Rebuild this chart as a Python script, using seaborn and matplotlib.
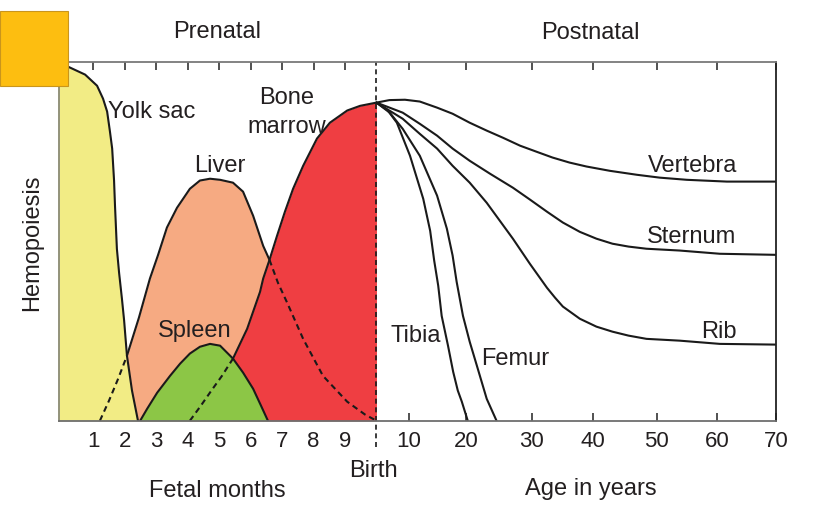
import numpy as np
import pandas as pd
import matplotlib
matplotlib.use("Agg")
import matplotlib.pyplot as plt
from matplotlib.patches import Rectangle
import seaborn as sns

# ---- data (x: fetal months / age in years, y: relative hemopoiesis 0-100) ----
YOLK_MONTH = [-0.09, 0.20, 0.74, 1.12, 1.31, 1.44, 1.53, 1.60, 1.66, 1.69, 1.75, 1.82, 1.91, 1.98, 2.07, 2.23, 2.42]
YOLK_LEVEL = [99.4, 98.6, 96.4, 93.3, 89.7, 86.1, 80.5, 75.8, 66.9, 59.9, 47.9, 41.2, 34.0, 27.9, 18.1, 8.4, 0.0]

LIVER_MONTH = [1.21, 1.50, 1.79, 2.07, 2.45, 2.80, 3.06, 3.34, 3.66, 4.07, 4.39, 4.71, 5.03,
               5.44, 5.76, 6.08, 6.40, 6.60, 6.87, 7.16, 7.67, 8.30, 9.07, 9.64, 10.0]
LIVER_LEVEL = [0.0, 5.6, 11.7, 18.1, 28.7, 39.6, 46.2, 53.8, 59.3, 64.6, 66.9, 67.4, 67.1,
               66.3, 63.8, 57.1, 48.7, 44.8, 38.4, 32.9, 22.8, 12.5, 5.3, 1.7, 0.0]
LIVER_VISIBLE = (2.07, 6.60)

SPLEEN_MONTH = [2.49, 2.71, 3.03, 3.44, 3.76, 4.07, 4.39, 4.71, 5.03, 5.44, 5.76, 6.08, 6.33, 6.55]
SPLEEN_LEVEL = [0.0, 3.3, 7.8, 12.5, 15.9, 18.7, 20.6, 21.4, 20.9, 17.3, 13.4, 8.9, 4.2, 0.0]

MARROW_MONTH = [4.07, 4.42, 4.77, 5.09, 5.44, 5.89, 6.30, 6.40, 6.60, 6.84, 7.09, 7.35, 7.67,
                8.11, 8.52, 9.07, 9.48, 10.0]
MARROW_LEVEL = [0.0, 4.2, 8.6, 12.5, 17.3, 25.6, 35.9, 39.6, 44.8, 51.5, 58.2, 64.6, 71.0,
                78.6, 83.0, 86.4, 87.7, 88.6]
MARROW_VISIBLE = (5.44, 10.0)

VERTEBRA_AGE = [0, 4.0, 8.8, 11.9, 14.9, 17.6, 20.5, 23.1, 25.6, 28.2, 30.8, 33.4, 36.2, 39.0,
                42.7, 46.9, 50.5, 55.0, 61.7, 70]
VERTEBRA_LEVEL = [88.6, 89.3, 89.4, 88.9, 87.2, 85.5, 83.0, 80.8, 78.8, 76.6, 74.9, 73.3, 71.9, 70.8,
                  69.6, 68.5, 67.7, 67.1, 66.6, 66.6]

STERNUM_AGE = [0, 8.1, 11.9, 14.9, 17.6, 20.5, 23.6, 27.1, 29.7, 32.5, 35.1, 37.9, 40.6, 43.1,
               45.6, 48.4, 53.8, 60.5, 70]
STERNUM_LEVEL = [88.6, 85.8, 82.7, 79.4, 75.8, 72.4, 68.8, 64.9, 61.6, 58.2, 55.2, 52.6, 50.7, 49.3,
                 48.5, 47.9, 47.4, 46.5, 46.2]

RIB_AGE = [0, 8.1, 11.9, 14.9, 17.6, 20.5, 23.1, 25.1, 27.1, 29.7, 32.5, 33.8, 35.1, 37.9, 40.6,
           43.1, 45.6, 48.4, 53.8, 60.5, 70]
RIB_LEVEL = [88.6, 84.1, 79.9, 75.8, 71.0, 66.3, 60.7, 55.7, 50.7, 43.7, 37.0, 34.3, 31.8, 28.4, 26.2,
             24.8, 23.7, 22.8, 22.3, 21.4, 21.2]

FEMUR_AGE = [0, 4.1, 8.1, 11.9, 14.9, 16.6, 17.6, 18.3, 19.4, 20.5, 21.6, 23.1, 24.6]
FEMUR_LEVEL = [88.6, 85.8, 81.3, 73.8, 62.7, 53.5, 46.0, 38.7, 29.2, 22.0, 15.3, 6.1, 0.0]

TIBIA_AGE = [0, 3.5, 6.3, 10.2, 12.5, 13.7, 14.4, 15.1, 15.7, 16.8, 17.7, 18.5, 19.2, 20.2]
TIBIA_LEVEL = [88.6, 86.4, 83.0, 73.8, 61.8, 52.9, 44.6, 37.6, 29.2, 20.9, 13.6, 8.4, 5.3, 0.0]

MONTH_TICKS = [1, 2, 3, 4, 5, 6, 7, 8, 9]
YEAR_TICKS = [0, 10, 20, 30, 40, 50, 60, 70]
# the postnatal part of the axis is not linear: where each year tick sits
YEAR_POS = [10.0, 11.03, 12.86, 14.94, 16.87, 18.91, 20.82, 22.70]

TEXT = "#231f20"
INK = "#1a1a1a"
YELLOW, SALMON, GREEN, RED = "#f2ec85", "#f6aa82", "#8cc646", "#ef3e42"


def age_to_pos(age):
    return np.interp(age, YEAR_TICKS, YEAR_POS)


sns.set_theme(style="white")
plt.rcParams["font.family"] = ["Liberation Sans", "DejaVu Sans"]

fig = plt.figure(figsize=(8.16, 5.1), dpi=100)
ax = fig.add_axes([0.0723, 0.1731, 0.8787, 0.704])

# filled regions (order matters: later ones cover earlier ones)
ax.fill_between(LIVER_MONTH, LIVER_LEVEL, 0, color=SALMON, lw=0, zorder=1)
ax.fill_between(YOLK_MONTH, YOLK_LEVEL, 0, color=YELLOW, lw=0, zorder=2)
ax.fill_between(MARROW_MONTH, MARROW_LEVEL, 0, color=RED, lw=0, zorder=3)
ax.fill_between(SPLEEN_MONTH, SPLEEN_LEVEL, 0, color=GREEN, lw=0, zorder=4)

line_kw = dict(color=INK, lw=1.5, zorder=6, solid_capstyle="round", solid_joinstyle="round")
dash_kw = dict(color=INK, lw=1.5, zorder=6, ls=(0, (2.8, 2.0)))


def split_plot(xs, ys, visible):
    # solid where the organ's curve is on top, dashed where it is hidden
    xs = np.asarray(xs)
    ys = np.asarray(ys)
    lo, hi = visible
    solid = (xs >= lo) & (xs <= hi)
    before = xs <= lo
    after = xs >= hi
    ax.plot(xs[solid], ys[solid], **line_kw)
    if before.sum() > 1:
        ax.plot(xs[before], ys[before], **dash_kw)
    if after.sum() > 1:
        ax.plot(xs[after], ys[after], **dash_kw)


ax.plot(YOLK_MONTH, YOLK_LEVEL, **line_kw)
split_plot(LIVER_MONTH, LIVER_LEVEL, LIVER_VISIBLE)
ax.plot(SPLEEN_MONTH, SPLEEN_LEVEL, **line_kw)
split_plot(MARROW_MONTH, MARROW_LEVEL, MARROW_VISIBLE)

# postnatal bones
bones = {
    "Vertebra": (VERTEBRA_AGE, VERTEBRA_LEVEL),
    "Sternum": (STERNUM_AGE, STERNUM_LEVEL),
    "Rib": (RIB_AGE, RIB_LEVEL),
    "Femur": (FEMUR_AGE, FEMUR_LEVEL),
    "Tibia": (TIBIA_AGE, TIBIA_LEVEL),
}
rows = []
for name, (ages, levels) in bones.items():
    for a, lv in zip(ages, levels):
        rows.append({"bone": name, "pos": age_to_pos(a), "level": lv})
df = pd.DataFrame(rows)
sns.lineplot(data=df, x="pos", y="level", hue="bone", units="bone", estimator=None,
             sort=False, palette={b: INK for b in bones}, lw=1.5,
             solid_joinstyle="round", legend=False, ax=ax, zorder=6)

# birth line
ax.plot([10, 10], [-7.2, 100], color=INK, lw=1.2, ls=(0, (3.0, 2.2)),
        clip_on=False, zorder=7)

ax.set_xlim(-0.09, 22.70)
ax.set_ylim(0, 100)
ax.set_xlabel("")
ax.set_ylabel("")
ax.set_yticks([])
ax.set_xticks(MONTH_TICKS + YEAR_POS[1:])
ax.set_xticklabels([str(m) for m in MONTH_TICKS] + [str(y) for y in YEAR_TICKS[1:]])
ax.tick_params(axis="x", direction="in", length=6, width=1.2, color="#333333",
               top=True, bottom=True, pad=7, labelsize=16, labelcolor=TEXT)

for side, col in [("left", "#8a8a72"), ("top", "#7a7a7a"), ("bottom", "#6e6e6e"), ("right", "#222222")]:
    ax.spines[side].set_visible(True)
    ax.spines[side].set_color(col)
    ax.spines[side].set_linewidth(1.3)
    ax.spines[side].set_zorder(8)

# region labels
fs = 17
ax.text(1.47, 84.6, "Yolk sac", fontsize=fs, color=TEXT, ha="left", va="baseline", zorder=9)
ax.text(7.16, 88.6, "Bone", fontsize=fs, color=TEXT, ha="center", va="baseline", zorder=9)
ax.text(7.16, 80.4, "marrow", fontsize=fs, color=TEXT, ha="center", va="baseline", zorder=9)
ax.text(5.03, 69.5, "Liver", fontsize=fs, color=TEXT, ha="center", va="baseline", zorder=9)
ax.text(4.23, 23.7, "Spleen", fontsize=fs, color=TEXT, ha="center", va="baseline", zorder=9)
ax.text(11.25, 22.2, "Tibia", fontsize=fs, color=TEXT, ha="center", va="baseline", zorder=9)
ax.text(14.42, 15.8, "Femur", fontsize=fs, color=TEXT, ha="center", va="baseline", zorder=9)
ax.text(20.88, 23.3, "Rib", fontsize=fs, color=TEXT, ha="center", va="baseline", zorder=9)
ax.text(20.05, 69.5, "Vertebra", fontsize=fs, color=TEXT, ha="center", va="baseline", zorder=9)
ax.text(20.02, 49.8, "Sternum", fontsize=fs, color=TEXT, ha="center", va="baseline", zorder=9)

# figure level labels
fig.text(0.266, 0.925, "Prenatal", fontsize=fs, color=TEXT, ha="center", va="baseline")
fig.text(0.724, 0.924, "Postnatal", fontsize=fs, color=TEXT, ha="center", va="baseline")
fig.text(0.458, 0.0647, "Birth", fontsize=fs, color=TEXT, ha="center", va="baseline")
fig.text(0.266, 0.0255, "Fetal months", fontsize=fs, color=TEXT, ha="center", va="baseline")
fig.text(0.724, 0.029, "Age in years", fontsize=fs, color=TEXT, ha="center", va="baseline")
fig.text(0.039, 0.524, "Hemopoiesis", fontsize=fs, color=TEXT, ha="center", va="center",
         rotation=90)

# gold corner square
fig.add_artist(Rectangle((0.0, 0.829), 0.0833, 0.147, transform=fig.transFigure,
                         facecolor="#fdbe10", edgecolor="#c9951c", lw=0.8, zorder=20))

fig.savefig("out.png", dpi=100)
plt.close(fig)
